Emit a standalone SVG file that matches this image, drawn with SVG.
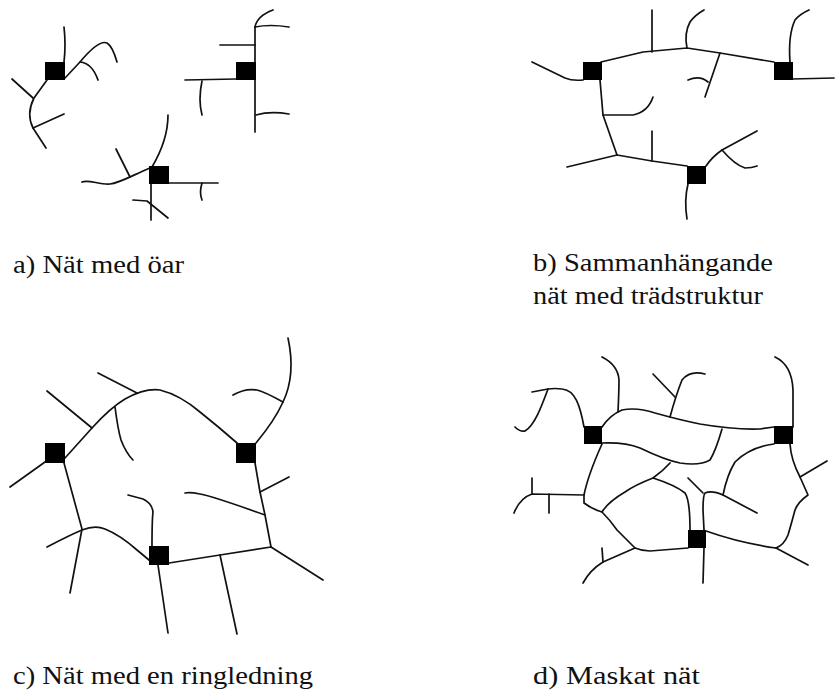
<svg xmlns="http://www.w3.org/2000/svg" width="835" height="692" viewBox="0 0 835 692">
<style>
.ln{fill:none;stroke:#111;stroke-width:1.7;stroke-linecap:round;stroke-linejoin:round}
.sq{fill:#000}
text{font-family:"Liberation Serif","DejaVu Serif","Noto Serif",Tinos,"Times New Roman",Times,serif;font-size:26px;fill:#111}
</style>
<rect width="835" height="692" fill="#fff"/>
<g id="connectors" class="ln">
<!-- a -->
<path d="M64,27 Q66,45 64,62"/>
<path d="M65,78 L80,62 C90,50 100,40 107,43 C112,46 115,55 117,62"/>
<path d="M80,62 Q92,63 98,80"/>
<path d="M47,80 L34,98 C28,110 29,120 33,128 L46,148"/>
<path d="M33,98 L12,79"/>
<path d="M33,128 L64,114"/>
<path d="M255,27 L255,132"/>
<path d="M255,27 Q257,16 273,10"/>
<path d="M255,27 Q270,24 289,27"/>
<path d="M255,45 L220,45"/>
<path d="M236,79 L185,80"/>
<path d="M202,81 Q198,100 202,115"/>
<path d="M256,115 Q270,111 289,114"/>
<path d="M82,182 C88,179 100,185 110,184 C120,183 135,174 150,168"/>
<path d="M130,177 L116,149"/>
<path d="M152,167 Q168,140 168,115"/>
<path d="M169,183 L218,183"/>
<path d="M202,183 Q199,193 202,200"/>
<path d="M151,184 L151,220"/>
<path d="M133,200 L147,201 L168,218"/>
<!-- b -->
<path d="M532,62 L565,78 Q572,81 583,80"/>
<path d="M601,62 L643,52 L687,48 L720,53 L774,62"/>
<path d="M652,52 L652,10"/>
<path d="M687,48 Q684,33 690,22 Q695,15 704,10"/>
<path d="M720,53 L705,97"/>
<path d="M688,80 Q700,75 708,82"/>
<path d="M790,62 Q788,35 795,20 Q800,14 809,10"/>
<path d="M792,79 L834,78"/>
<path d="M600,80 L603,115 L617,155"/>
<path d="M603,115 L633,115 Q648,112 653,97"/>
<path d="M617,155 L652,161 L687,166"/>
<path d="M617,155 L567,167"/>
<path d="M652,161 L652,131"/>
<path d="M706,166 Q712,157 722,150 L757,131"/>
<path d="M722,150 Q735,165 745,168 Q752,168 757,166"/>
<path d="M688,184 Q684,200 687,219"/>
<!-- c -->
<path d="M45,462 L10,487"/>
<path d="M65,458 L92,428 Q110,408 125,399 Q145,388 160,390 Q180,395 200,412 Q220,428 237,443"/>
<path d="M92,428 L47,391"/>
<path d="M137,393 L98,373"/>
<path d="M115,407 Q118,430 121,440 Q126,453 133,460"/>
<path d="M256,443 Q275,420 283,402 Q296,375 288,338"/>
<path d="M283,402 Q265,392 257,390 Q245,388 233,395"/>
<path d="M255,463 L260,492 L265,515 L271,547"/>
<path d="M260,492 L289,477"/>
<path d="M265,515 Q215,497 200,494 Q190,492 185,493"/>
<path d="M271,547 L323,580"/>
<path d="M169,563 L220,555 L271,547"/>
<path d="M220,555 L237,634"/>
<path d="M158,565 L168,633"/>
<path d="M152,546 Q152,520 153,512 Q152,503 143,499 L128,495"/>
<path d="M64,463 L82,529 L70,593"/>
<path d="M47,547 Q70,535 82,530 Q95,525 105,529 Q120,535 137,550 L149,560"/>
<!-- d -->
<path d="M584,427 C580,405 575,390 562,389 Q555,388 548,389 L532,392"/>
<path d="M548,389 C542,405 535,425 525,431 Q520,432 515,427"/>
<path d="M602,427 Q610,415 622,410 Q637,407 655,413 Q680,420 700,424 Q735,430 760,429 L774,427"/>
<path d="M618,412 Q619,390 619,380 Q618,365 602,357"/>
<path d="M670,417 Q676,395 682,380 Q690,370 705,374"/>
<path d="M675,397 L653,374"/>
<path d="M793,427 L793,390 Q792,365 775,357"/>
<path d="M602,443 Q625,442 640,448 Q665,460 680,463 Q700,466 710,460 Q716,450 722,429"/>
<path d="M670,463 Q663,471 653,478 Q635,485 625,492 Q608,502 602,512"/>
<path d="M653,478 Q675,485 685,493 Q690,500 690,530"/>
<path d="M602,444 Q588,475 584,495 L584,503 Q592,509 602,512 Q610,520 617,530 L635,548 Q642,551 650,551 L688,548"/>
<path d="M584,495 L532,494 Q520,498 514,513"/>
<path d="M532,494 L532,478"/>
<path d="M549,494 L549,513"/>
<path d="M635,548 L603,562 Q590,570 583,583"/>
<path d="M603,562 L602,548"/>
<path d="M704,548 L703,583"/>
<path d="M704,530 L703,510 Q703,495 705,493 Q712,490 723,495 L757,513"/>
<path d="M688,478 L703,493"/>
<path d="M723,495 Q727,475 735,462 Q750,447 774,444"/>
<path d="M790,444 Q791,460 800,477 L808,495 Q798,502 795,510 Q791,525 788,535 Q784,545 776,548"/>
<path d="M800,477 L827,461"/>
<path d="M706,531 Q740,543 776,548"/>
<path d="M776,548 L808,565"/>
</g>
<g id="a-node1"><rect class="sq" x="45" y="62" width="20" height="18"/></g>
<g id="a-node2"><rect class="sq" x="236" y="62" width="20" height="18"/></g>
<g id="a-node3"><rect class="sq" x="149" y="166" width="20" height="18"/></g>
<g id="b-node1"><rect class="sq" x="583" y="62" width="19" height="18"/></g>
<g id="b-node2"><rect class="sq" x="774" y="62" width="19" height="18"/></g>
<g id="b-node3"><rect class="sq" x="687" y="166" width="19" height="18"/></g>
<g id="c-node1"><rect class="sq" x="45" y="443" width="20" height="20"/></g>
<g id="c-node2"><rect class="sq" x="236" y="443" width="20" height="20"/></g>
<g id="c-node3"><rect class="sq" x="149" y="546" width="20" height="19"/></g>
<g id="d-node1"><rect class="sq" x="584" y="426" width="18" height="18"/></g>
<g id="d-node2"><rect class="sq" x="774" y="426" width="19" height="18"/></g>
<g id="d-node3"><rect class="sq" x="688" y="530" width="18" height="18"/></g>
<g id="labels">
<text x="13" y="273" textLength="171" lengthAdjust="spacingAndGlyphs">a) Nät med öar</text>
<text x="533" y="271" textLength="240" lengthAdjust="spacingAndGlyphs">b) Sammanhängande</text>
<text x="533" y="304" textLength="230" lengthAdjust="spacingAndGlyphs">nät med trädstruktur</text>
<text x="13" y="684" textLength="300" lengthAdjust="spacingAndGlyphs">c) Nät med en ringledning</text>
<text x="533" y="684" textLength="167" lengthAdjust="spacingAndGlyphs">d) Maskat nät</text>
</g>
</svg>
